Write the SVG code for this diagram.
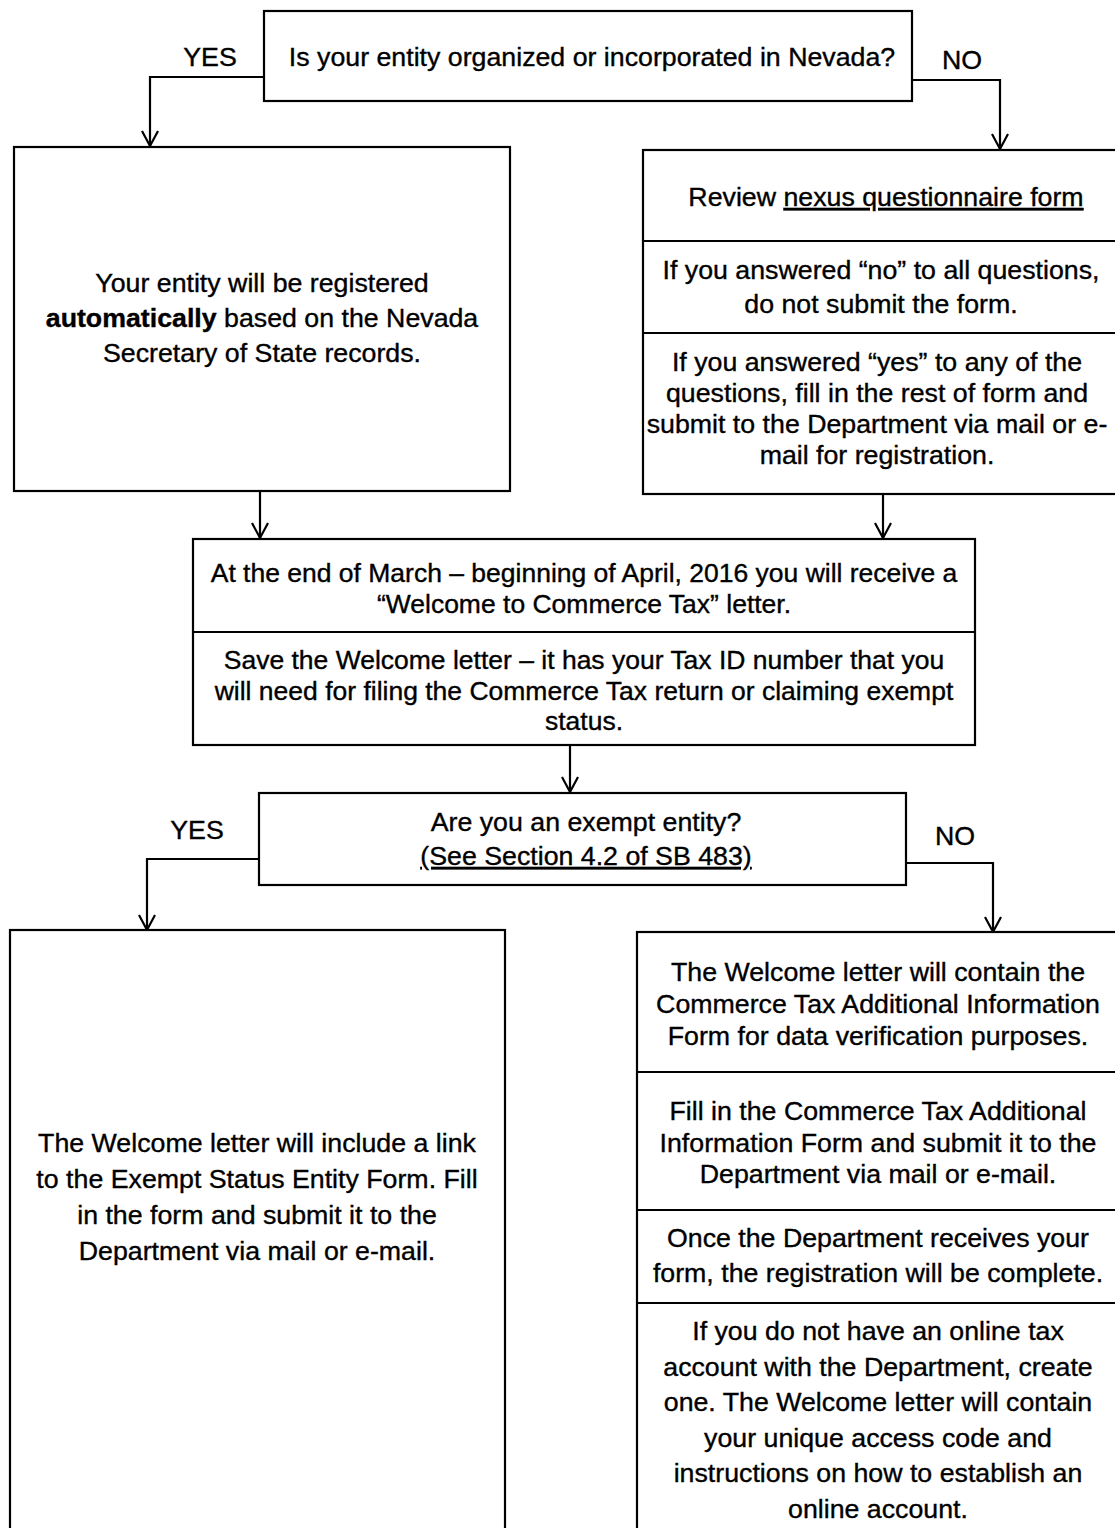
<svg xmlns="http://www.w3.org/2000/svg" width="1115" height="1528" viewBox="0 0 1115 1528">
<defs>
<style>
.box{fill:#fff;stroke:#000;stroke-width:2.2}
.div{stroke:#000;stroke-width:2.2;fill:none}
.con{stroke:#000;stroke-width:2.2;fill:none}
text{font-family:"Liberation Sans",Arial,sans-serif;font-size:25px;fill:#000;stroke:#000;stroke-width:0.35;text-anchor:middle}
.b{font-weight:bold}
.u{text-decoration:underline}
</style>
<marker id="ah" markerUnits="userSpaceOnUse" markerWidth="24" markerHeight="24" viewBox="-18 -12 24 24" refX="0" refY="0" orient="auto" overflow="visible">
<path d="M -15 -8 L 0 0 L -15 8" fill="none" stroke="#000" stroke-width="2.2"/>
</marker>
</defs>
<rect width="1115" height="1528" fill="#fff"/>

<g id="connectors">
<polyline class="con" points="264,77 150,77 150,146" marker-end="url(#ah)"/>
<polyline class="con" points="912,80 1000,80 1000,149" marker-end="url(#ah)"/>
<line class="con" x1="260" y1="491" x2="260" y2="538" marker-end="url(#ah)"/>
<line class="con" x1="883" y1="494" x2="883" y2="538" marker-end="url(#ah)"/>
<line class="con" x1="570" y1="745" x2="570" y2="792" marker-end="url(#ah)"/>
<polyline class="con" points="259,859 147,859 147,930" marker-end="url(#ah)"/>
<polyline class="con" points="906,863 993,863 993,932" marker-end="url(#ah)"/>
<g transform="translate(210 0) scale(1.07 1)"><text x="0" y="66">YES</text></g>
<g transform="translate(962 0) scale(1.07 1)"><text x="0" y="69">NO</text></g>
<g transform="translate(197 0) scale(1.07 1)"><text x="0" y="839">YES</text></g>
<g transform="translate(955 0) scale(1.07 1)"><text x="0" y="845">NO</text></g>
</g>

<g id="q1">
<rect class="box" x="264" y="11" width="648" height="90"/>
<g transform="translate(592 0) scale(1.07 1)"><text x="0" y="66">Is your entity organized or incorporated in Nevada?</text></g>
</g>

<g id="auto">
<rect class="box" x="14" y="147" width="496" height="344"/>
<g transform="translate(262 0) scale(1.07 1)">
<text x="0" y="292">Your entity will be registered</text>
<text x="0" y="327"><tspan class="b">automatically</tspan> based on the Nevada</text>
<text x="0" y="362">Secretary of State records.</text>
</g>
</g>

<g id="nexus">
<rect class="box" x="643" y="150" width="480" height="344"/>
<line class="div" x1="643" y1="241" x2="1120" y2="241"/>
<line class="div" x1="643" y1="333" x2="1120" y2="333"/>
<g transform="translate(886 0) scale(1.07 1)">
<text x="0" y="206">Review <tspan class="u">nexus questionnaire form</tspan></text>
</g>
<g transform="translate(881 0) scale(1.07 1)">
<text x="0" y="279">If you answered “no” to all questions,</text>
<text x="0" y="313">do not submit the form.</text>
</g>
<g transform="translate(877 0) scale(1.07 1)">
<text x="0" y="371">If you answered “yes” to any of the</text>
<text x="0" y="402">questions, fill in the rest of form and</text>
<text x="0" y="433">submit to the Department via mail or e-</text>
<text x="0" y="464">mail for registration.</text>
</g>
</g>

<g id="welcome">
<rect class="box" x="193" y="539" width="782" height="206"/>
<line class="div" x1="193" y1="632" x2="975" y2="632"/>
<g transform="translate(584 0) scale(1.06 1)">
<text x="0" y="582">At the end of March – beginning of April, 2016 you will receive a</text>
<text x="0" y="613">“Welcome to Commerce Tax” letter.</text>
<text x="0" y="669">Save the Welcome letter – it has your Tax ID number that you</text>
<text x="0" y="700">will need for filing the Commerce Tax return or claiming exempt</text>
<text x="0" y="730">status.</text>
</g>
</g>

<g id="q2">
<rect class="box" x="259" y="793" width="647" height="92"/>
<g transform="translate(586 0) scale(1.07 1)">
<text x="0" y="831">Are you an exempt entity?</text>
<text x="0" y="865" class="u">(See Section 4.2 of SB 483)</text>
</g>
</g>

<g id="exempt">
<rect class="box" x="10" y="930" width="495" height="610"/>
<g transform="translate(257 0) scale(1.07 1)">
<text x="0" y="1152">The Welcome letter will include a link</text>
<text x="0" y="1188">to the Exempt Status Entity Form. Fill</text>
<text x="0" y="1224">in the form and submit it to the</text>
<text x="0" y="1260">Department via mail or e-mail.</text>
</g>
</g>

<g id="nonexempt">
<rect class="box" x="637" y="932" width="486" height="610"/>
<line class="div" x1="637" y1="1072" x2="1120" y2="1072"/>
<line class="div" x1="637" y1="1210" x2="1120" y2="1210"/>
<line class="div" x1="637" y1="1303" x2="1120" y2="1303"/>
<g transform="translate(878 0) scale(1.07 1)">
<text x="0" y="981">The Welcome letter will contain the</text>
<text x="0" y="1013">Commerce Tax Additional Information</text>
<text x="0" y="1045">Form for data verification purposes.</text>
<text x="0" y="1120">Fill in the Commerce Tax Additional</text>
<text x="0" y="1152">Information Form and submit it to the</text>
<text x="0" y="1183">Department via mail or e-mail.</text>
<text x="0" y="1247">Once the Department receives your</text>
<text x="0" y="1282">form, the registration will be complete.</text>
<text x="0" y="1340">If you do not have an online tax</text>
<text x="0" y="1376">account with the Department, create</text>
<text x="0" y="1411">one. The Welcome letter will contain</text>
<text x="0" y="1447">your unique access code and</text>
<text x="0" y="1482">instructions on how to establish an</text>
<text x="0" y="1518">online account.</text>
</g>
</g>
</svg>
